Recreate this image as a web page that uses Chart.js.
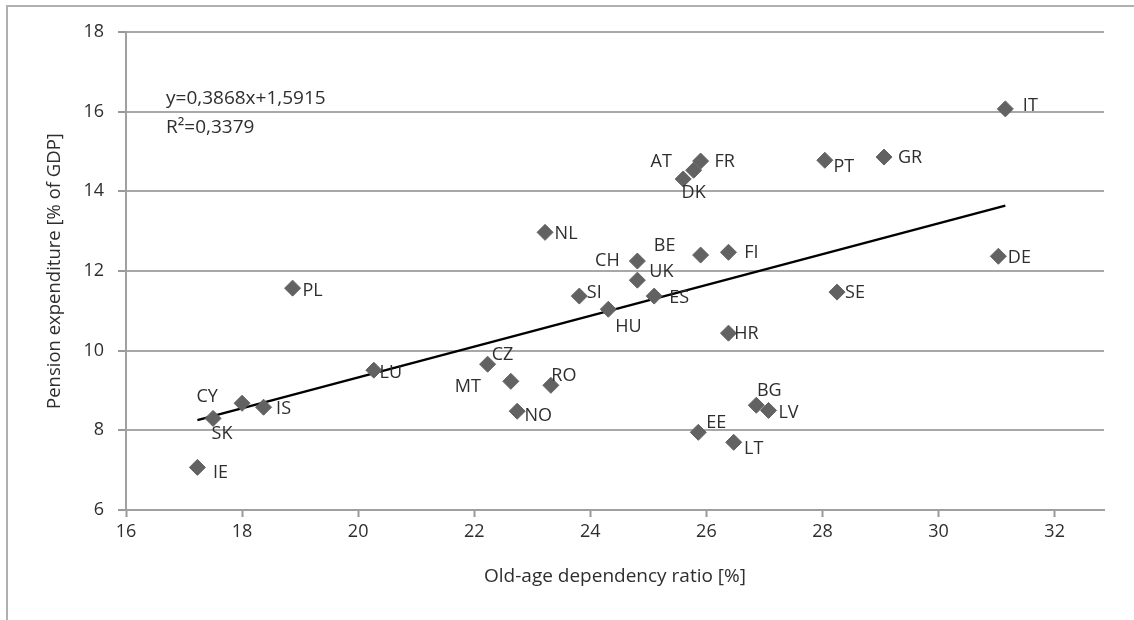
<!DOCTYPE html>
<html>
<head>
<meta charset="utf-8">
<script src="https://cdn.jsdelivr.net/npm/chart.js@4/dist/chart.umd.min.js"></script>
<style>
  html, body { margin: 0; padding: 0; background: #fff; }
  #wrap { width: 1134px; height: 620px; position: relative; }
</style>
</head>
<body>
<div id="wrap"><canvas id="pension-graph" width="1134" height="620"></canvas></div>
<script>
var countries  = ['IT', 'DE', 'PT', 'GR', 'SE', 'FR', 'DK', 'AT', 'NL', 'CH', 'UK', 'BE', 'FI', 'SI', 'ES', 'HU', 'HR',
                  'CY', 'IS', 'SK', 'IE', 'BG', 'LV', 'EE', 'LT', 'CZ', 'MT', 'RO', 'NO', 'PL', 'LU'];
var dependency = [31.15, 31.03, 28.04, 29.06, 28.25, 25.90, 25.78, 25.60, 23.22, 24.81, 24.81, 25.90, 26.38, 23.81, 25.10, 24.31, 26.38,
                  18.00, 18.37, 17.50, 17.23, 26.86, 27.07, 25.86, 26.47, 22.23, 22.63, 23.32, 22.74, 18.87, 20.27];
var pensionExp = [16.07, 12.37, 14.78, 14.86, 11.47, 14.76, 14.53, 14.31, 12.97, 12.25, 11.77, 12.40, 12.47, 11.37, 11.37, 11.04, 10.44,
                  8.68, 8.58, 8.30, 7.07, 8.63, 8.50, 7.95, 7.70, 9.66, 9.23, 9.13, 8.48, 11.57, 9.51];
var xTickValues = [16, 18, 20, 22, 24, 26, 28, 30, 32];
var yTickValues = [6, 8, 10, 12, 14, 16, 18];
var slope = 0.3868;
var intercept = 1.5915;
var equationText = 'y=0,3868x+1,5915';
var r2Text = 'R\u00B2=0,3379';

// where each country label sits relative to its marker (pixels)
var labelOffset = {
  IT: [25, -3], DE: [21, 2], PT: [19, 7], GR: [26, 1], SE: [18, 1], FR: [24, 1], DK: [0, 23], AT: [-22, -17],
  NL: [21, 2], CH: [-30, 0], UK: [24, -8], BE: [-36, -9], FI: [23, 1], SI: [15, -3], ES: [25, 2], HU: [20, 18],
  HR: [18, 1], CY: [-35, -6], IS: [20, 2], SK: [9, 15], IE: [23, 5], BG: [13, -14], LV: [20, 2], EE: [18, -9],
  LT: [20, 7], CZ: [15, -9], MT: [-43, 6], RO: [13, -9], NO: [21, 5], PL: [20, 3], LU: [17, 3]
};

var points = countries.map(function(c, i) {
  return {x: dependency[i], y: pensionExp[i]};
});
var xMin = Math.min.apply(null, dependency);
var xMax = Math.max.apply(null, dependency);
var trend = [
  {x: xMin, y: slope * xMin + intercept},
  {x: xMax, y: slope * xMax + intercept}
];

var textColor = '#2e2e2e';
var textFont = '18px "Open Sans", sans-serif';

var labelPlugin = {
  id: 'labels',
  beforeDraw: function(chart) {
    var ctx = chart.ctx;
    ctx.save();
    ctx.strokeStyle = '#b0b0b0';
    ctx.lineWidth = 2;
    ctx.beginPath();
    ctx.moveTo(7, 620);
    ctx.lineTo(7, 6);
    ctx.lineTo(1134, 6);
    ctx.stroke();
    ctx.restore();
  },
  afterDatasetsDraw: function(chart) {
    var ctx = chart.ctx;
    var meta = chart.getDatasetMeta(0);
    ctx.save();
    ctx.font = textFont;
    ctx.fillStyle = textColor;
    ctx.textAlign = 'center';
    ctx.textBaseline = 'middle';
    meta.data.forEach(function(pt, i) {
      var off = labelOffset[countries[i]] || [20, 0];
      ctx.fillText(countries[i], pt.x + off[0], pt.y + off[1]);
    });
    var area = chart.chartArea;
    ctx.font = '19px "Open Sans", sans-serif';
    ctx.textAlign = 'left';
    ctx.fillText(equationText, area.left + 40, area.top + 67);
    ctx.fillText(r2Text, area.left + 40, area.top + 96);
    ctx.restore();
  }
};

var ctx = document.getElementById('pension-graph');
var pensionChart = new Chart(ctx, {
  type: 'scatter',
  data: {
    datasets: [{
      label: 'Countries',
      data: points,
      pointStyle: 'rectRot',
      pointRadius: 8,
      backgroundColor: '#626262',
      borderColor: '#626262',
      borderWidth: 1
    }, {
      type: 'line',
      label: 'Trend',
      data: trend,
      borderColor: '#000',
      borderWidth: 2.5,
      pointRadius: 0,
      fill: false
    }]
  },
  options: {
    responsive: false,
    animation: false,
    layout: { padding: { left: 0, top: 32, right: 30, bottom: 0 } },
    plugins: {
      legend: { display: false },
      tooltip: { enabled: false }
    },
    scales: {
      x: {
        type: 'linear',
        min: 16,
        max: 32.85,
        afterBuildTicks: function(s) { s.ticks = xTickValues.map(function(v) { return {value: v}; }); },
        afterFit: function(s) { s.height = 110; },
        grid: { drawOnChartArea: false, tickLength: 7, tickColor: '#999', tickWidth: 2 },
        border: { color: '#a0a0a0', width: 2 },
        ticks: { font: { family: 'Open Sans', size: 18 }, color: textColor, padding: 4 },
        title: {
          display: true,
          text: 'Old-age dependency ratio [%]',
          font: { family: 'Open Sans', size: 19 },
          color: textColor,
          padding: { top: 32, bottom: 32 }
        }
      },
      y: {
        min: 6,
        max: 18,
        afterBuildTicks: function(s) { s.ticks = yTickValues.map(function(v) { return {value: v}; }); },
        afterFit: function(s) { s.width = 126; },
        grid: { color: '#a8a8a8', lineWidth: 2, tickLength: 8, tickColor: '#999' },
        border: { color: '#a0a0a0', width: 2 },
        ticks: { font: { family: 'Open Sans', size: 18 }, color: textColor, padding: 14 },
        title: {
          display: true,
          text: 'Pension expenditure [% of GDP]',
          font: { family: 'Open Sans', size: 18.5 },
          color: textColor,
          padding: { top: 44, bottom: 44 }
        }
      }
    }
  },
  plugins: [labelPlugin]
});
</script>
</body>
</html>
